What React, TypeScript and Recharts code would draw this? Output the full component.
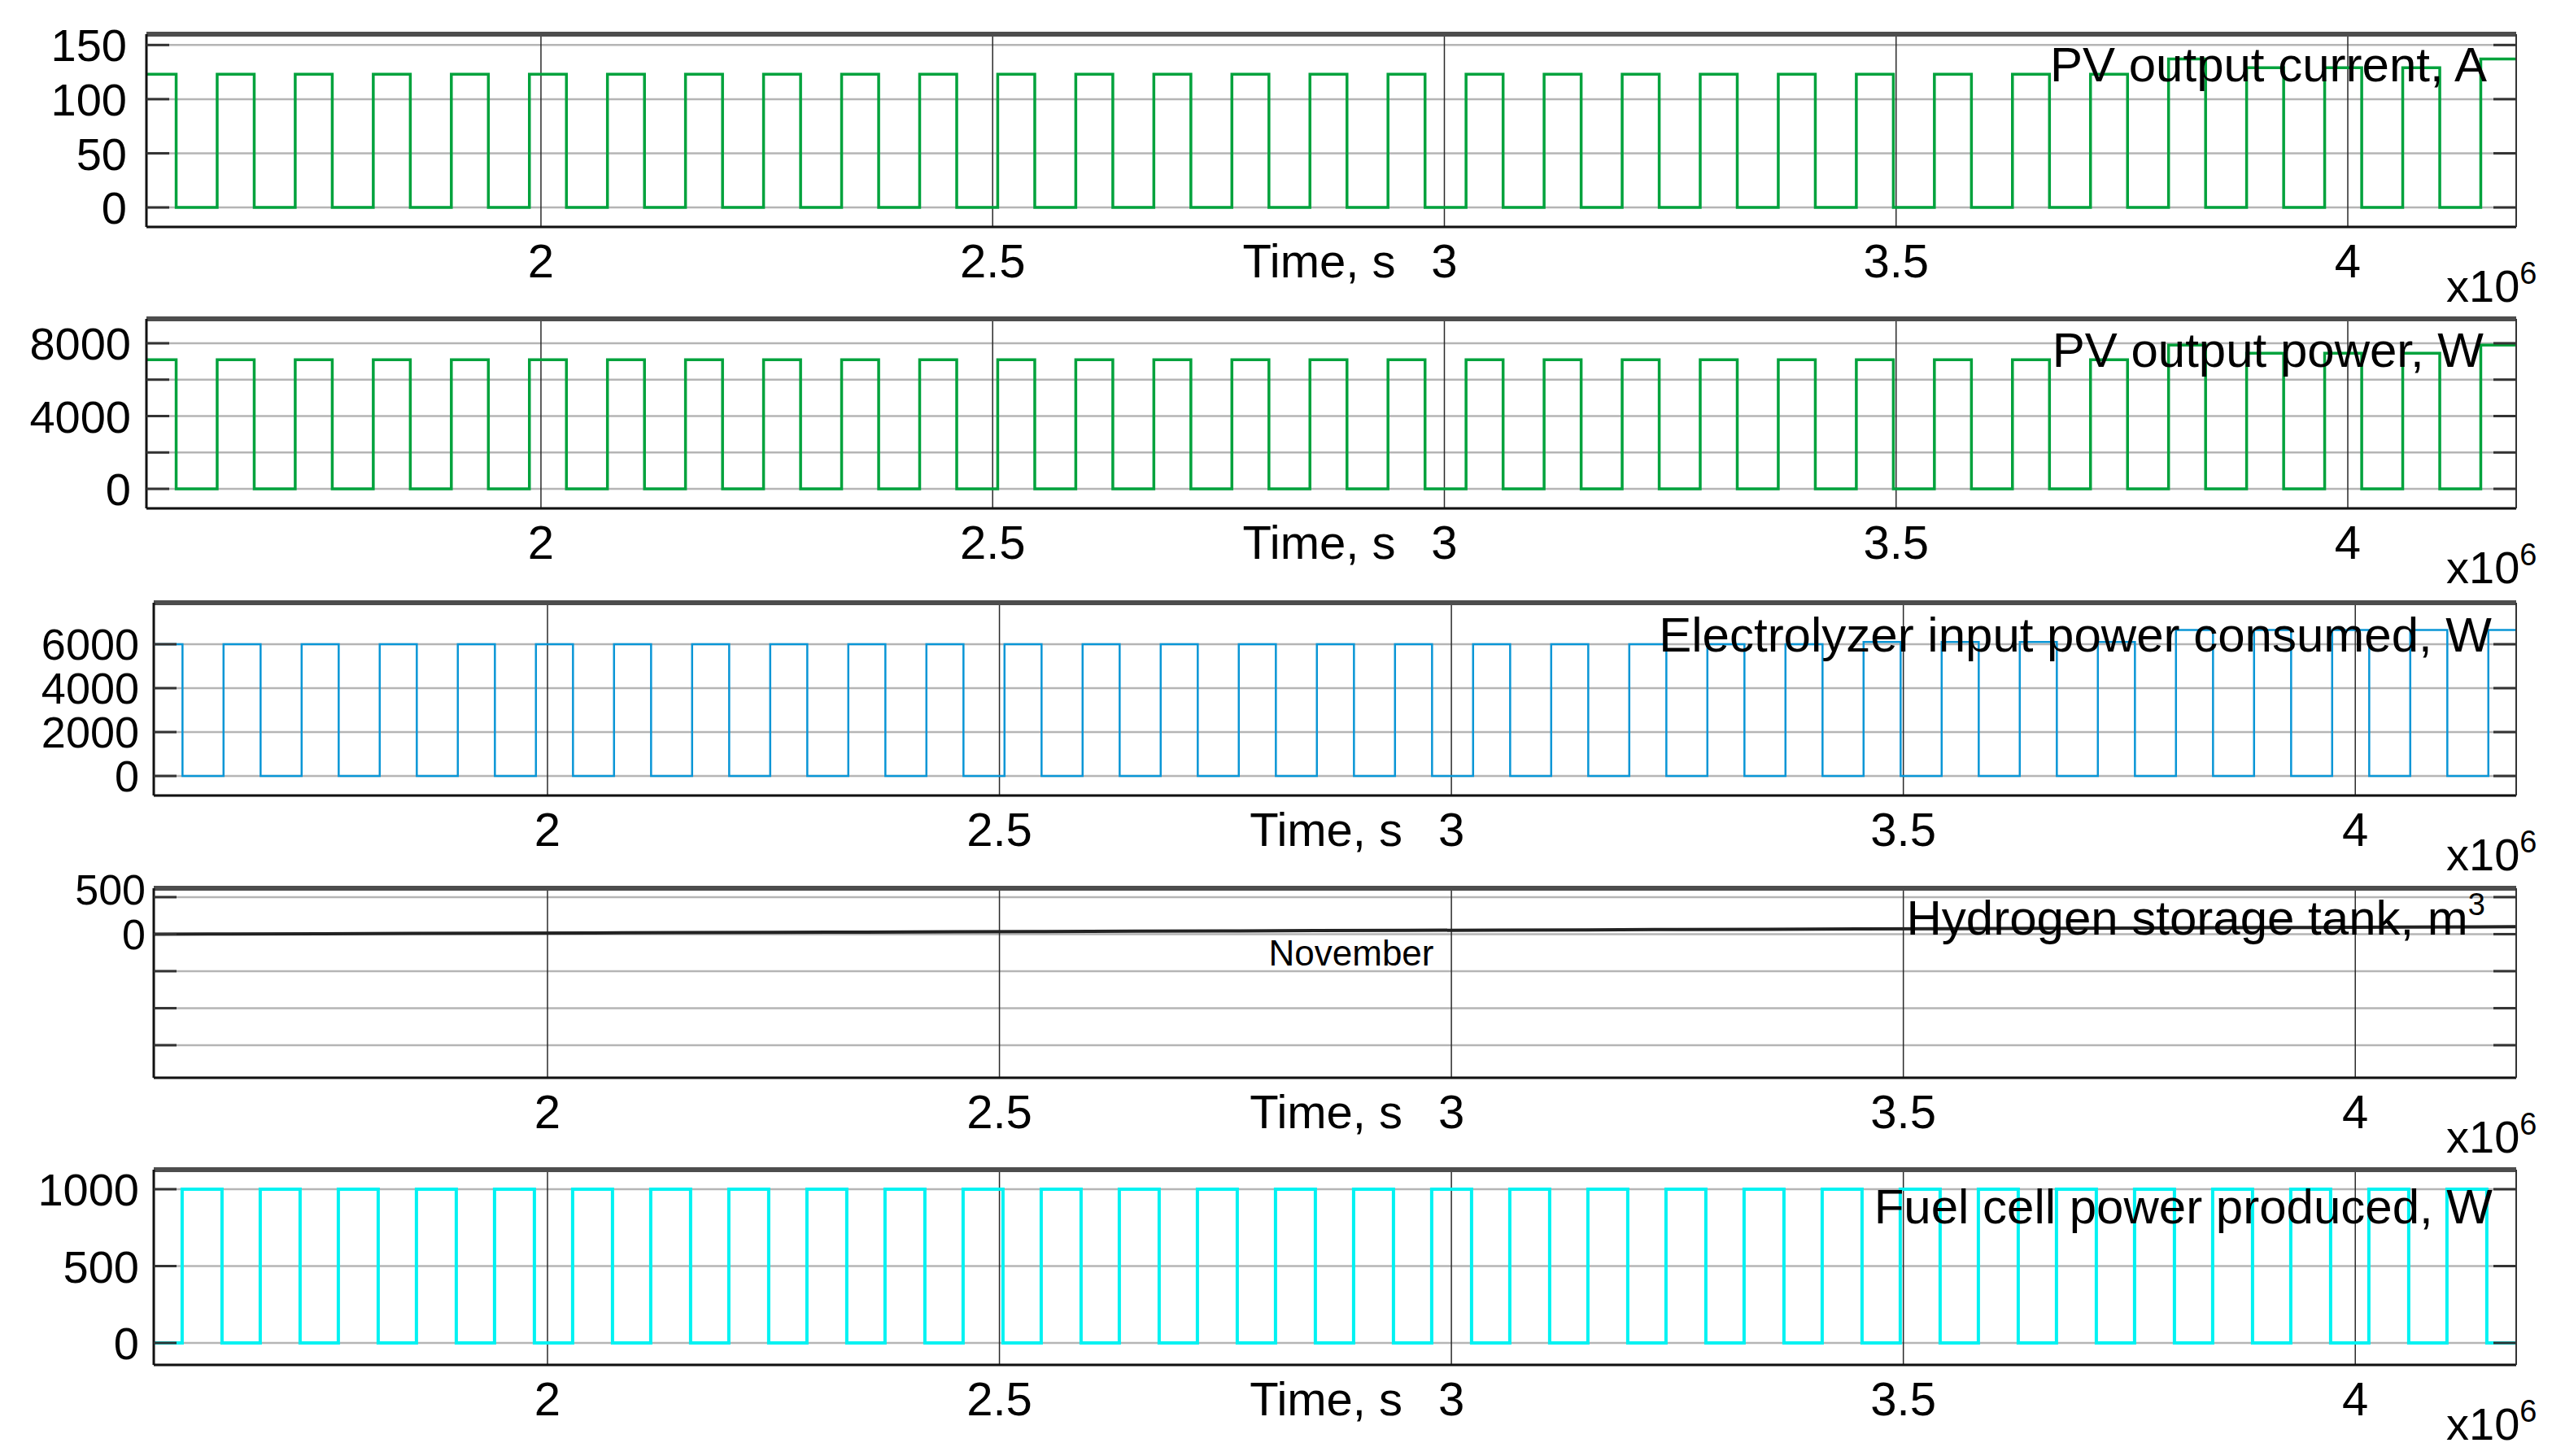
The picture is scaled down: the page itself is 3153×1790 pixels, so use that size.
import React from "react";
import { LineChart, Line, XAxis, YAxis, CartesianGrid } from "recharts";

const FONT = '"Liberation Sans", Arial, Helvetica, sans-serif';
const W = 3153;

// time axis in units of 1e6 s
const timeTicks = [2, 2.5, 3, 3.5, 4];
const timeDomainUpper = [1.5633, 4.1864];
const timeDomainLower = [1.5644, 4.178];

// PV switching instants (x1e6 s): sunset (falls) and sunrise (rises)
const pvFall = [
    1.5962, 1.6826, 1.769, 1.8554, 1.9418, 2.0282, 2.1146, 2.201, 2.2874, 2.3738,
    2.4602, 2.5466, 2.633, 2.7194, 2.8058, 2.8922, 2.9786, 3.065, 3.1514, 3.2378,
    3.3242, 3.4106, 3.497, 3.5834, 3.6698, 3.7562, 3.8426, 3.929, 4.0154, 4.1018,
];
const pvRise = [
    1.6416, 1.728, 1.8144, 1.9008, 1.9872, 2.0736, 2.16, 2.2464, 2.3328, 2.4192,
    2.5056, 2.592, 2.6784, 2.7648, 2.8512, 2.9376, 3.024, 3.1104, 3.1968, 3.2832,
    3.3696, 3.456, 3.5424, 3.6288, 3.7152, 3.8016, 3.888, 3.9744, 4.0608, 4.1472,
];

// plateau of each daytime pulse (first entry = pulse already running at the left edge)
const pvCurrentHigh = [
    123, 123, 123, 123, 123, 123, 123, 123, 123, 123,
    123, 123, 123, 123, 123, 123, 123, 123, 123, 123,
    123, 123, 123, 123, 123, 123, 137, 129, 129, 129, 137,
];
const pvPowerHigh = [
    7100, 7100, 7100, 7100, 7100, 7100, 7100, 7100, 7100, 7100,
    7100, 7100, 7100, 7100, 7100, 7100, 7100, 7100, 7100, 7100,
    7100, 7100, 7100, 7100, 7100, 7100, 7900, 7450, 7450, 7450, 7900,
];
const electrolyzerHigh = [
    6000, 6000, 6000, 6000, 6000, 6000, 6000, 6000, 6000, 6000,
    6000, 6000, 6000, 6000, 6000, 6000, 6000, 6000, 6000, 6000,
    6000, 6000, 6100, 6100, 6100, 6100, 6650, 6650, 6650, 6650, 6650,
];

// fuel cell runs at night
const fcRise = [
    1.5958, 1.6822, 1.7686, 1.855, 1.9414, 2.0278, 2.1142, 2.2006, 2.287, 2.3734,
    2.4598, 2.5462, 2.6326, 2.719, 2.8054, 2.8918, 2.9782, 3.0646, 3.151, 3.2374,
    3.3238, 3.4102, 3.4966, 3.583, 3.6694, 3.7558, 3.8422, 3.9286, 4.015, 4.1014,
];
const fcFall = [
    1.6399, 1.7263, 1.8127, 1.8991, 1.9855, 2.0719, 2.1583, 2.2447, 2.3311, 2.4175,
    2.5039, 2.5903, 2.6767, 2.7631, 2.8495, 2.9359, 3.0223, 3.1087, 3.1951, 3.2815,
    3.3679, 3.4543, 3.5407, 3.6271, 3.7135, 3.7999, 3.8863, 3.9727, 4.0591, 4.1455,
];
const fcHigh = [
    1000, 1000, 1000, 1000, 1000, 1000, 1000, 1000, 1000, 1000,
    1000, 1000, 1000, 1000, 1000, 1000, 1000, 1000, 1000, 1000,
    1000, 1000, 1000, 1000, 1000, 1000, 1000, 1000, 1000, 1000,
];

// hydrogen tank volume, m3
const h2Time = [
    1.5644, 1.65, 1.75, 1.85, 1.95, 2.05, 2.15, 2.25, 2.35, 2.45, 2.55, 2.65, 2.75, 2.85,
    2.95, 3.05, 3.15, 3.25, 3.35, 3.45, 3.55, 3.65, 3.75, 3.85, 3.95, 4.05, 4.178,
];
const h2Volume = [
    0, 3, 5, 10, 12, 17, 20, 25, 28, 33, 35, 40, 43, 48,
    51, 55, 58, 63, 66, 71, 74, 79, 82, 87, 90, 95, 100,
];

type Pt = { t: number; v: number };

const startHigh = (x: number[], falls: number[], rises: number[], highs: number[]): Pt[] => {
    const pts: Pt[] = [{ t: x[0], v: highs[0] }];
    falls.forEach((f, i) => {
        pts.push({ t: f, v: 0 });
        if (i < rises.length) pts.push({ t: rises[i], v: highs[i + 1] });
    });
    pts.push({ t: x[1], v: pts[pts.length - 1].v });
    return pts;
};

const startLow = (x: number[], rises: number[], falls: number[], highs: number[]): Pt[] => {
    const pts: Pt[] = [{ t: x[0], v: 0 }];
    rises.forEach((r, i) => {
        pts.push({ t: r, v: highs[i] });
        pts.push({ t: falls[i], v: 0 });
    });
    pts.push({ t: x[1], v: 0 });
    return pts;
};

const TimeTick = (props: any) => {
    const { x, y, payload } = props;
    return (
        <g>
            <text x={x} y={y + 62} textAnchor="middle" fontFamily={FONT} fontSize={58} fill="#000">
                {payload.value}
            </text>
            {payload.value === 3 && (
                <text x={x - 60} y={y + 62} textAnchor="end" fontFamily={FONT} fontSize={58} fill="#000">
                    Time, s
                </text>
            )}
        </g>
    );
};

const LeftTick = (props: any) => {
    const { x, y, payload, labels, gap, size, shift } = props;
    const dy = (shift && shift[payload.value]) || 0;
    return (
        <g>
            <line x1={x} x2={x + 28} y1={y} y2={y} stroke="#333" strokeWidth={3} />
            {labels.includes(payload.value) && (
                <text x={x - gap} y={y + dy} dy="0.36em" textAnchor="end" fontFamily={FONT} fontSize={size} fill="#000">
                    {payload.value}
                </text>
            )}
        </g>
    );
};

const RightTick = (props: any) => {
    const { x, y } = props;
    return <line x1={x - 28} x2={x} y1={y} y2={y} stroke="#333" strokeWidth={3} />;
};

const ScaleLabel = (props: any) => {
    const vb = props.viewBox;
    if (!vb) return null;
    return (
        <text x={vb.x + vb.width - 86} y={vb.y + 92} fontFamily={FONT} fontSize={56} fill="#000">
            x10
            <tspan dy={-22} fontSize={38}>6</tspan>
        </text>
    );
};

type PanelProps = {
    plotTop: number;
    plotH: number;
    left: number;
    domainX: number[];
    domainY: number[];
    yTicks: number[];
    yLabels: number[];
    gap: number;
    size?: number;
    shift?: Record<number, number>;
    data: Pt[];
    color: string;
    width: number;
    step?: boolean;
};

const AXIS_H = 112;

const Panel = ({ plotTop, plotH, left, domainX, domainY, yTicks, yLabels, gap, size = 56, shift, data, color, width, step = true }: PanelProps) => {
    const height = 40 + plotH + AXIS_H;
    return (
        <div style={{ position: "absolute", left: 0, top: plotTop - 40, width: W, height }}>
            <LineChart width={W} height={height} margin={{ top: 39, right: 59, bottom: 0, left: 0 }}>
                <CartesianGrid vertical={false} stroke="#b5b5b5" strokeWidth={2.5} />
                <CartesianGrid horizontal={false} stroke="#2a2a2a" strokeWidth={1.5} />
                <XAxis
                    dataKey="t"
                    type="number"
                    domain={domainX}
                    ticks={timeTicks}
                    interval={0}
                    allowDataOverflow
                    tickSize={0}
                    tickMargin={0}
                    tickLine={false}
                    axisLine={{ stroke: "#111", strokeWidth: 3 }}
                    height={AXIS_H}
                    tick={<TimeTick />}
                    label={ScaleLabel}
                />
                <XAxis
                    xAxisId="top"
                    orientation="top"
                    type="number"
                    domain={domainX}
                    allowDataOverflow
                    height={1}
                    tick={false}
                    tickLine={false}
                    axisLine={{ stroke: "#4d4d4d", strokeWidth: 6 }}
                />
                <YAxis
                    type="number"
                    domain={domainY}
                    ticks={yTicks}
                    interval={0}
                    allowDataOverflow
                    width={left}
                    tickSize={0}
                    tickMargin={0}
                    tickLine={false}
                    axisLine={{ stroke: "#111", strokeWidth: 3 }}
                    tick={<LeftTick labels={yLabels} gap={gap} size={size} shift={shift} />}
                />
                <YAxis
                    yAxisId="right"
                    orientation="right"
                    type="number"
                    domain={domainY}
                    ticks={yTicks}
                    interval={0}
                    allowDataOverflow
                    width={1}
                    tickSize={0}
                    tickMargin={0}
                    tickLine={false}
                    axisLine={{ stroke: "#333", strokeWidth: 2 }}
                    tick={<RightTick />}
                />
                <Line
                    data={data}
                    dataKey="v"
                    type={step ? "stepAfter" : "linear"}
                    stroke={color}
                    strokeWidth={width}
                    dot={false}
                    isAnimationActive={false}
                />
            </LineChart>
        </div>
    );
};

const legendStyle = (right: number, top: number): React.CSSProperties => ({
    position: "absolute",
    right: W - right,
    top,
    fontFamily: FONT,
    fontSize: 60,
    lineHeight: "60px",
    whiteSpace: "nowrap",
    color: "#000",
});

const App = () => {
    const pvCurrent = startHigh(timeDomainUpper, pvFall, pvRise, pvCurrentHigh);
    const pvPower = startHigh(timeDomainUpper, pvFall, pvRise, pvPowerHigh);
    const electrolyzer = startHigh(timeDomainLower, pvFall, pvRise, electrolyzerHigh);
    const fuelCell = startLow(timeDomainLower, fcRise, fcFall, fcHigh);
    const hydrogen = h2Time.map((t, i) => ({ t, v: h2Volume[i] }));

    return (
        <div style={{ position: "absolute", left: 0, top: 0, width: W, height: 1790, background: "#fff", overflow: "hidden" }}>
            <Panel plotTop={42} plotH={237} left={180} domainX={timeDomainUpper} domainY={[-18, 160]}
                yTicks={[0, 50, 100, 150]} yLabels={[0, 50, 100, 150]} gap={24}
                data={pvCurrent} color="#00a23c" width={3.5} />
            <Panel plotTop={392} plotH={233} left={180} domainX={timeDomainUpper} domainY={[-1073, 9341]}
                yTicks={[0, 2000, 4000, 6000, 8000]} yLabels={[0, 4000, 8000]} gap={19}
                data={pvPower} color="#00a23c" width={3.5} />
            <Panel plotTop={741} plotH={237} left={189} domainX={timeDomainLower} domainY={[-890, 7890]}
                yTicks={[0, 2000, 4000, 6000]} yLabels={[0, 2000, 4000, 6000]} gap={18} size={54}
                data={electrolyzer} color="#0a96d6" width={2.5} />
            <Panel plotTop={1092} plotH={233} left={189} domainX={timeDomainLower} domainY={[-1940, 620]}
                yTicks={[-1500, -1000, -500, 0, 500]} yLabels={[0, 500]} gap={10} size={52} shift={{ 500: -10 }}
                data={hydrogen} color="#222" width={4} step={false} />
            <Panel plotTop={1438} plotH={240} left={189} domainX={timeDomainLower} domainY={[-143, 1127]}
                yTicks={[0, 500, 1000]} yLabels={[0, 500, 1000]} gap={18}
                data={fuelCell} color="#00f2f2" width={4} />

            <div style={legendStyle(3057, 50)}>PV output current, A</div>
            <div style={legendStyle(3053, 401)}>PV output power, W</div>
            <div style={legendStyle(3063, 751)}>Electrolyzer input power consumed, W</div>
            <div style={legendStyle(3055, 1099)}>
                Hydrogen storage tank, m
                <span style={{ fontSize: 38, position: "relative", top: -24, lineHeight: "0px" }}>3</span>
            </div>
            <div style={legendStyle(3064, 1454)}>Fuel cell power produced, W</div>
            <div
                style={{
                    position: "absolute",
                    left: 1661,
                    top: 1150,
                    transform: "translateX(-50%)",
                    fontFamily: FONT,
                    fontSize: 44,
                    lineHeight: "44px",
                    whiteSpace: "nowrap",
                    color: "#000",
                }}
            >
                November
            </div>
        </div>
    );
};

export default App;
